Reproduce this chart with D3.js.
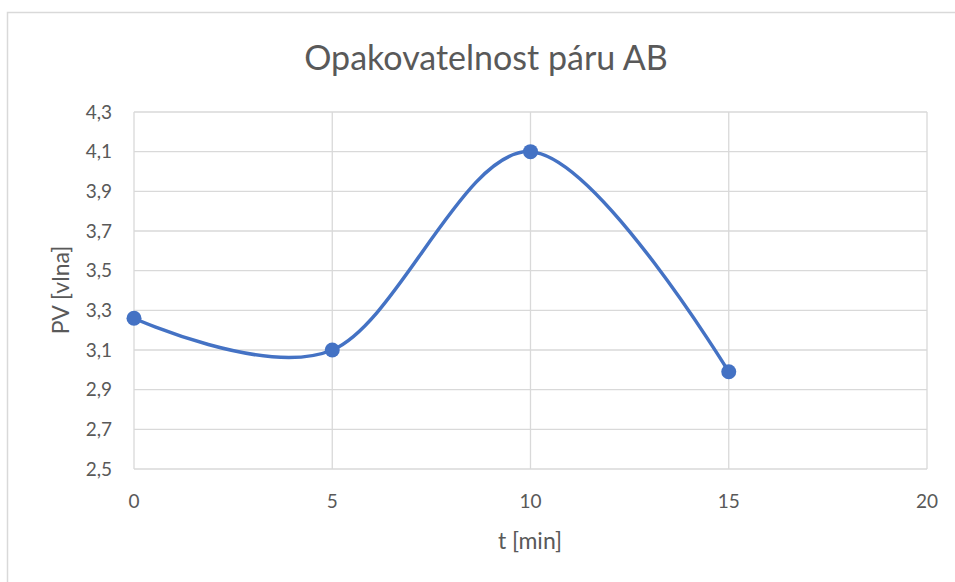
<!DOCTYPE html>
<html>
<head>
<meta charset="utf-8">
<script src="https://cdn.jsdelivr.net/npm/d3@7"></script>
<style>
  body { margin: 0; background: #fff; }
  text { font-family: Lato, "Open Sans", sans-serif; fill: #595959; }
</style>
</head>
<body>
<div id="chart"></div>
<script>
const times = [0, 5, 10, 15];
const pvValues = [3.26, 3.10, 4.10, 2.99];
const xTicks = [0, 5, 10, 15, 20];
const yTicks = [2.5, 2.7, 2.9, 3.1, 3.3, 3.5, 3.7, 3.9, 4.1, 4.3];

function init() {
    const w = 955;
    const h = 582;
    const margin = {left: 134, right: 28, top: 112, bottom: 113};

    const svg = d3.select("#chart")
        .append("svg")
        .attr("width", w)
        .attr("height", h);

    // chart frame
    svg.append("rect")
        .attr("x", 7.5)
        .attr("y", 12.5)
        .attr("width", 1000)
        .attr("height", 700)
        .attr("fill", "none")
        .attr("stroke", "#d9d9d9")
        .attr("stroke-width", 1.5);

    const x = d3.scaleLinear()
        .domain([0, 20])
        .range([margin.left, w - margin.right]);

    const y = d3.scaleLinear()
        .domain([2.5, 4.3])
        .range([h - margin.bottom, margin.top]);

    // grid
    svg.append("g")
        .selectAll("line.h")
        .data(yTicks)
        .enter()
        .append("line")
        .attr("x1", x(0))
        .attr("x2", x(20))
        .attr("y1", d => y(d))
        .attr("y2", d => y(d))
        .attr("stroke", "#d9d9d9")
        .attr("stroke-width", 1.3);

    svg.append("g")
        .selectAll("line.v")
        .data(xTicks)
        .enter()
        .append("line")
        .attr("x1", d => x(d))
        .attr("x2", d => x(d))
        .attr("y1", y(2.5))
        .attr("y2", y(4.3))
        .attr("stroke", "#d9d9d9")
        .attr("stroke-width", 1.3);

    // tick labels
    svg.append("g")
        .selectAll("text")
        .data(yTicks)
        .enter()
        .append("text")
        .attr("x", x(0) - 22)
        .attr("y", d => y(d))
        .attr("dy", "0.35em")
        .attr("text-anchor", "end")
        .attr("font-size", 19)
        .text(d => d3.format(".1f")(d).replace(".", ","));

    svg.append("g")
        .selectAll("text")
        .data(xTicks)
        .enter()
        .append("text")
        .attr("x", d => x(d))
        .attr("y", y(2.5) + 39)
        .attr("text-anchor", "middle")
        .attr("font-size", 19)
        .text(d => d);

    // titles
    svg.append("text")
        .attr("x", 486)
        .attr("y", 70)
        .attr("text-anchor", "middle")
        .attr("font-size", 34)
        .text("Opakovatelnost páru AB");

    svg.append("text")
        .attr("x", 530)
        .attr("y", 549)
        .attr("text-anchor", "middle")
        .attr("font-size", 23)
        .text("t [min]");

    svg.append("text")
        .attr("transform", "translate(69,290) rotate(-90)")
        .attr("text-anchor", "middle")
        .attr("font-size", 23)
        .text("PV [vlna]");

    // series
    const points = times.map((t, i) => ({t: t, v: pvValues[i]}));

    const line = d3.line()
        .x(d => x(d.t))
        .y(d => y(d.v))
        .curve(d3.curveCardinal.tension(0));

    svg.append("path")
        .datum(points)
        .attr("d", line)
        .attr("fill", "none")
        .attr("stroke", "#4472c4")
        .attr("stroke-width", 3.5)
        .attr("stroke-linecap", "round");

    svg.selectAll("circle")
        .data(points)
        .enter()
        .append("circle")
        .attr("cx", d => x(d.t))
        .attr("cy", d => y(d.v))
        .attr("r", 7.5)
        .attr("fill", "#4472c4");
}

window.onload = init;
</script>
</body>
</html>
